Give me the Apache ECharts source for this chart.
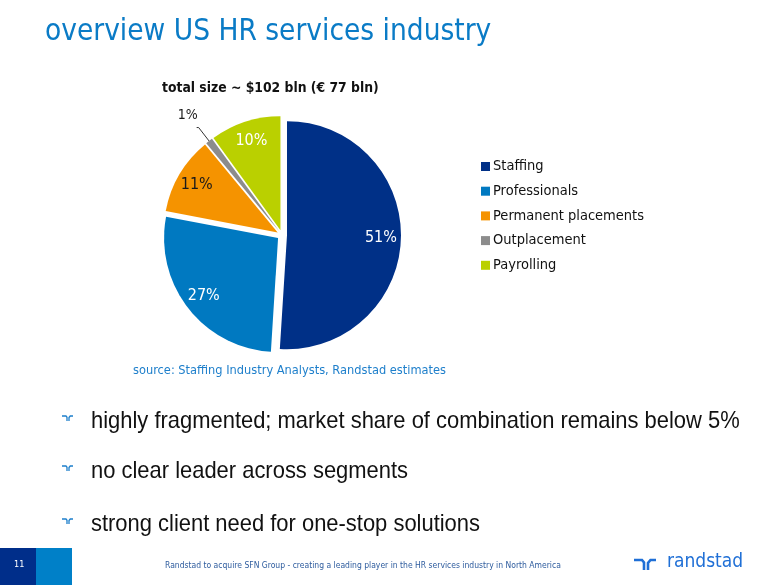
<!DOCTYPE html>
<html><head><meta charset="utf-8">
<script src="https://cdn.jsdelivr.net/npm/echarts@6/dist/echarts.min.js"></script>
<style>html,body{margin:0;padding:0;background:#fff}#c{width:780px;height:585px}</style>
</head><body><div id="c"></div>
<script>
var categories = ['Staffing', 'Professionals', 'Permanent placements', 'Outplacement', 'Payrolling'];
var shares = [51, 27, 11, 1, 10];
var sliceColors = ['#003087', '#0079C1', '#F59300', '#8C8C8C', '#BAD000'];
var labelColors = ['#ffffff', '#ffffff', '#1a1a1a', '#1a1a1a', '#ffffff'];
var bullets = [
  'highly fragmented; market share of combination remains below 5%',
  'no clear leader across segments',
  'strong client need for one-stop solutions'
];
var chartTitle = 'total size ~ $102 bln (\u20ac 77 bln)';
var pageTitle = 'overview US HR services industry';
var sourceText = 'source: Staffing Industry Analysts, Randstad estimates';
var footerText = 'Randstad to acquire SFN Group - creating a leading player in the HR services industry in North America';
var pageNo = '11';

var FONT = '"DejaVu Sans Condensed", "DejaVu Sans", sans-serif';
var chart = echarts.init(document.getElementById('c'), null, {renderer: 'canvas'});

var mainData = categories.map(function (n, i) {
  return {
    name: n, value: shares[i], selected: true,
    itemStyle: {color: sliceColors[i]},
    label: i === 3 ? {show: true, position: 'outside', color: '#1a1a1a', distanceToLabelLine: 1} : {show: false},
    labelLine: i === 3 ? {show: true, length: 17, length2: 2} : {show: false}
  };
});
var labelData = categories.map(function (n, i) {
  return {
    name: n, value: shares[i],
    itemStyle: {color: 'rgba(0,0,0,0)'},
    label: {show: i !== 3, color: labelColors[i]}
  };
});

function logoShape(x, y, s, color, w) {
  return {
    type: 'group', x: x, y: y, scaleX: s, scaleY: s, silent: true,
    children: [
      {type: 'polyline', shape: {points: [[0, 0], [8, 0], [10, 2.5], [10, 10]]}, style: {stroke: color, lineWidth: w, fill: null}},
      {type: 'polyline', shape: {points: [[14, 10], [14, 3], [16.5, 0], [22, 0]]}, style: {stroke: color, lineWidth: w, fill: null}}
    ]
  };
}

var graphics = [
  {type: 'text', left: 45, top: 17, style: {text: pageTitle, fill: '#0A7BC6', font: '29.5px ' + FONT}},
  {type: 'text', left: 133, top: 364, style: {text: sourceText, fill: '#1E7FCB', font: '12.7px ' + FONT}},
  {type: 'rect', shape: {x: 0, y: 548, width: 36, height: 37}, style: {fill: '#002E8A'}},
  {type: 'rect', shape: {x: 36, y: 548, width: 36, height: 37}, style: {fill: '#0080C8'}},
  {type: 'text', left: 14, top: 560, style: {text: pageNo, fill: '#ffffff', font: '9px ' + FONT}},
  {type: 'text', left: 165, top: 561, style: {text: footerText, fill: '#2E5C9E', font: '8.5px ' + FONT}},
  logoShape(634, 560, 1, '#1F6FD6', 2.6),
  {type: 'text', left: 667, top: 553, style: {text: 'randstad', fill: '#1F6FD6', font: '19px ' + FONT}}
];
var bulletY = [422, 472, 525];
bullets.forEach(function (b, i) {
  graphics.push(logoShape(62, bulletY[i] - 6, 0.5, '#1E7FCB', 2.6));
  graphics.push({type: 'text', x: 91, y: bulletY[i] - 13, scaleX: 0.914, style: {text: b, fill: '#111111', font: '24px "Liberation Sans", sans-serif'}});
});

chart.setOption({
  animation: false,
  title: {
    text: chartTitle, left: 157, top: 76,
    textStyle: {fontSize: 13.8, fontWeight: 'bold', color: '#111', fontFamily: FONT}
  },
  legend: {
    orient: 'vertical', left: 476, top: 154, itemWidth: 9, itemHeight: 9, itemGap: 9.7,
    icon: 'rect', selectedMode: false,
    textStyle: {fontSize: 14.5, color: '#111', fontFamily: FONT, padding: [0, 0, 0, -2]},
    data: categories
  },
  series: [
    {
      type: 'pie', center: [282, 235], radius: [0, 114], startAngle: 90, clockwise: true,
      selectedMode: 'multiple', selectedOffset: 5, silent: true,
      label: {fontSize: 14, fontFamily: FONT, formatter: '{c}%'},
      labelLine: {lineStyle: {color: '#333', width: 1}},
      labelLayout: function (p) {
        if (p.dataIndex === 3) {
          return {dy: -12, dx: 2};
        }
      },
      data: mainData
    },
    {
      type: 'pie', center: [282, 235], radius: [0, 192], startAngle: 90, clockwise: true, z: 5,
      silent: true, legendHoverLink: false,
      label: {position: 'inside', fontSize: 16, fontFamily: FONT, formatter: '{c}%'},
      labelLine: {show: false},
      data: labelData
    }
  ],
  graphic: graphics
});
</script></body></html>
